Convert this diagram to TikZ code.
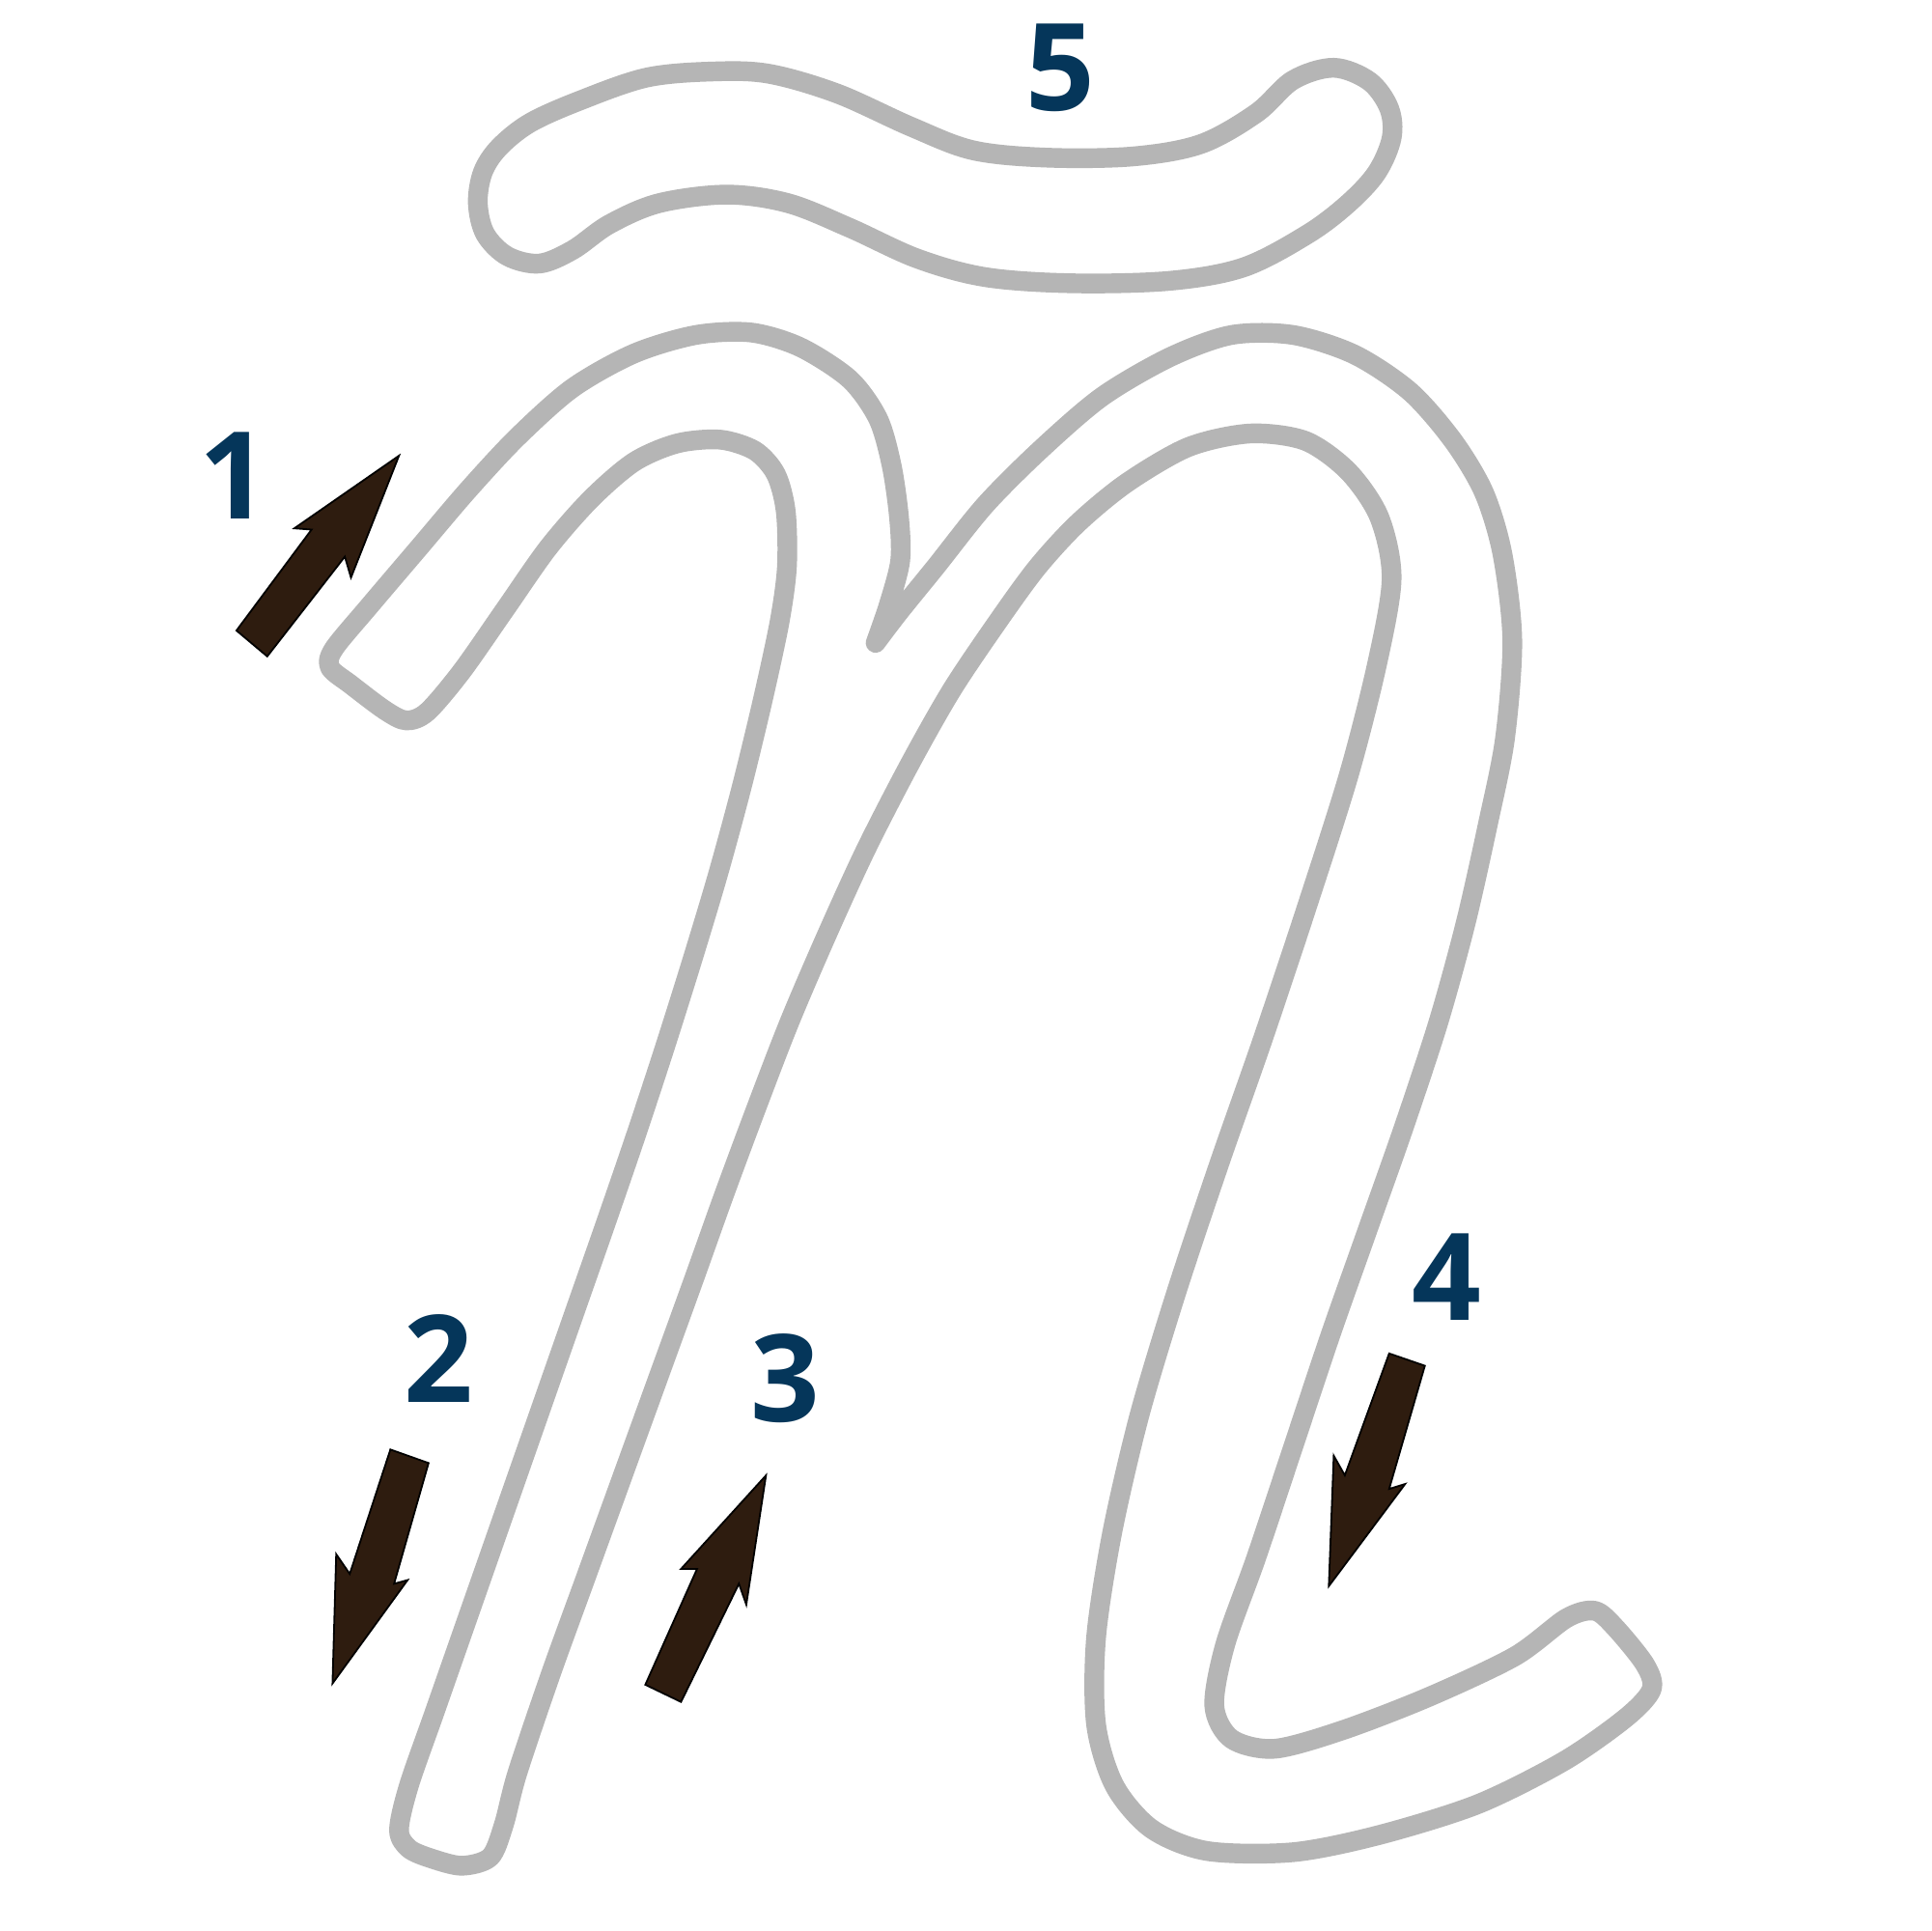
\documentclass[tikz,border=0pt]{standalone}
\usepackage{fontspec}
\setmainfont{Open Sans}

\definecolor{traceline}{HTML}{B5B5B5}
\definecolor{numblue}{HTML}{05365A}
\definecolor{arrowbrown}{HTML}{2E1C0F}

\begin{document}
\begin{tikzpicture}[
    x=0.01cm, y=-0.01cm,
    outline/.style  ={draw=traceline, line width=0.16cm, line join=round, line cap=round},
    num/.style      ={font=\fontsize{28}{30}\selectfont\bfseries, text=numblue, inner sep=0pt},
    dirarrow/.style ={fill=arrowbrown, draw=black, line width=0.4pt, line join=miter}
]

% page
\fill[white] (0,0) rectangle (1568,1568);
\useasboundingbox (0,0) rectangle (1568,1568);

% Tilde (stroke 5)
\draw[outline] plot[smooth cycle, tension=0.55] coordinates {
    (470,82) (430,100) (405,120) (392,140) (388,165) (394,190) (412,208)
    (438,214) (465,203) (495,182) (535,165) (590,158) (640,165) (690,185)
    (745,210) (800,225) (870,230) (950,228) (1010,217) (1062,190)
    (1095,165) (1118,140) (1130,112) (1128,88) (1112,66) (1083,55)
    (1050,65) (1020,92) (975,117) (920,127) (850,128) (790,122) (740,103)
    (680,76) (625,60) (580,58) (525,63)};

% Letter body (strokes 1-4), starting at the notch between the humps
\draw[outline] plot[smooth, tension=0.5] coordinates {
    (711,522) (730,497) (760,460) (800,410) (845,365) (895,322) (950,290)
    (1000,272) (1050,272) (1100,288) (1145,318) (1180,358) (1205,400)
    (1220,450) (1228,520) (1222,600) (1208,670) (1190,750) (1168,830)
    (1140,915) (1110,1000) (1080,1085) (1050,1175) (1020,1265) (995,1335)
    (986,1385) (1000,1412) (1035,1420) (1090,1405) (1160,1378) (1230,1345)
    (1272,1314) (1295,1308) (1312,1322) (1336,1352) (1341,1372) (1320,1395)
    (1270,1430) (1200,1465) (1120,1490) (1050,1504) (980,1503) (935,1485)
    (905,1450) (890,1400) (890,1330) (903,1245) (925,1150) (955,1050)
    (990,945) (1025,845) (1060,740) (1095,630) (1118,540) (1130,470)
    (1120,420) (1095,383) (1060,358) (1015,352) (965,363) (915,392)
    (875,425) (842,461) (810,505) (773,560) (739,620) (703,690) (671,760)
    (641,830) (614,900) (588,970) (563,1040) (534,1120) (505,1200)
    (476,1280) (447,1360) (420,1440) (409,1482) (398,1508) (375,1515)
    (350,1509) (332,1501) (324,1486) (332,1450) (353,1390) (381,1310)
    (409,1230) (437,1150) (465,1070) (493,990) (517,920) (540,850)
    (562,780) (583,710) (602,640) (619,570) (633,505) (639,460) (638,415)
    (630,385) (613,366) (585,357) (550,360) (515,375) (480,405) (445,445)
    (410,495) (375,545) (347,578) (330,585) (313,577) (285,556) (268,542)
    (271,527) (300,492) (340,445) (380,398) (420,355) (465,315) (515,287)
    (565,272) (610,270) (650,282) (690,308) (713,340) (724,378) (730,420)
    (731,455) (722,490) (711,522)};

% Direction arrows
\filldraw[dirarrow] (192,512) -- (253,430) -- (239,429) -- (324,370)
    -- (285,469) -- (280,452) -- (217,533) -- cycle;
\filldraw[dirarrow] (317,1177) -- (348,1188) -- (320,1286) -- (331,1283)
    -- (270,1367) -- (273,1262) -- (284,1278) -- cycle;
\filldraw[dirarrow] (524,1368) -- (566,1274) -- (553,1274) -- (622,1198)
    -- (606,1303) -- (600,1286) -- (553,1382) -- cycle;
\filldraw[dirarrow] (1128,1099) -- (1157,1109) -- (1128,1209) -- (1141,1205)
    -- (1079,1288) -- (1083,1182) -- (1092,1198) -- cycle;

% Stroke numbers
\node[num] (n1) at (190,386)  {1};
\node[num] (n2) at (356,1103) {2};
\node[num] (n3) at (638,1119) {3};
\node[num] (n4) at (1175,1037) {4};
\node[num] (n5) at (861,55)   {5};

\end{tikzpicture}
\end{document}
